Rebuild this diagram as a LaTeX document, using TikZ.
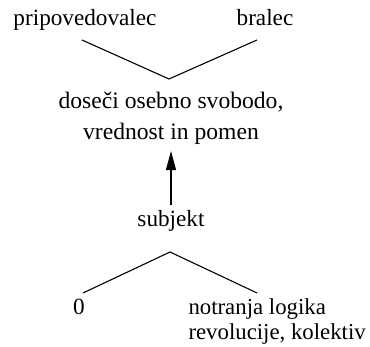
\documentclass[tikz,border=0pt]{standalone}
\usepackage{fontspec}
\setmainfont{Liberation Serif}
\usetikzlibrary{arrows.meta}

\begin{document}
\begin{tikzpicture}[
  x=0.5pt, y=-0.5pt, >={Triangle[length=9.5pt,width=5pt]},
  font=\fontsize{11.6}{14}\selectfont,
  term/.style={inner sep=2.8pt, text height=8pt, text depth=4pt, anchor=base},
  block/.style={inner sep=2.8pt, anchor=base},
  link/.style={line width=0.55pt},
]
\useasboundingbox (0,0) rectangle (370,347);

\node[term] (prip) at (85,26) {pripovedovalec};
\node[term] (bral) at (265,26) {bralec};
% multi-line nodes sit on their last line
\node[block, align=center, font=\fontsize{11.8}{15.5}\selectfont] (dos) at (171,140)
  {doseči osebno svobodo,\\vrednost in pomen};
\node[term] (subj) at (171,227) {subjekt};
\node[term] (zero) at (79,315) {0};
\node[block, anchor=base west, align=left, font=\fontsize{11.4}{12.5}\selectfont] (notr) at (182.5,340)
  {notranja logika\\revolucije, kolektiv};

\coordinate (up) at (169,79);
\coordinate (down) at (170,252);

\draw[link] ([xshift=-1.5pt]prip.south) -- (up) -- ([xshift=-4pt]bral.south);
\draw[link, ->] (subj) -- (dos);
\draw[link] ([xshift=2pt]zero.north) -- (down) -- ([xshift=37.3pt]notr.north west |- zero.north);
\end{tikzpicture}
\end{document}
